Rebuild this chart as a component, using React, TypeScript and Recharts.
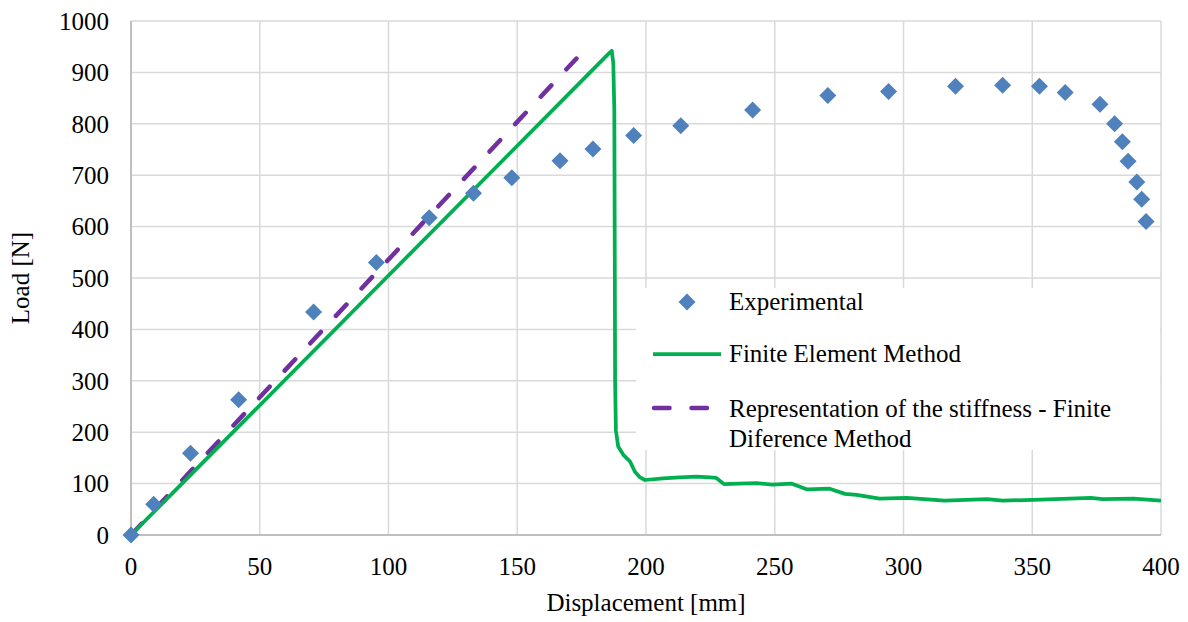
import {
  CartesianGrid,
  ComposedChart,
  Label,
  Line,
  Scatter,
  XAxis,
  YAxis,
} from 'recharts';

// Experimental measurements (displacement mm, load N)
const expDisplacement = [
  0, 8.8, 23.1, 41.8, 70.9, 95.3, 115.8, 133, 147.9, 166.6, 179.4, 195.2, 213.5, 241.4,
  270.6, 294.2, 320.2, 338.5, 352.8, 362.8, 376.3, 382, 385, 387.2, 390.6, 392.5, 394.2,
];
const expLoad = [
  0, 60, 159, 263, 434, 530, 617, 665, 695, 728, 751, 777, 796, 827, 855, 863, 873, 875,
  873, 861, 838, 800, 765, 727, 687, 653, 610,
];

// Finite element curve
const femDisplacement = [
  0, 185.8, 186.7, 187.3, 187.7, 187.9, 188.0, 188.3, 189.2, 191.2, 193.8, 195.7, 197.7,
  199.6, 206.7, 213, 219.7, 224.9, 227.3, 230.3, 236, 243, 249, 256.4, 262.4, 271.3, 277.3,
  281.8, 290.7, 301.2, 316, 332.5, 338.5, 353.4, 372.8, 377.3, 389.3, 400,
];
const femLoad = [
  0, 938, 942, 918, 827, 500, 301, 204, 172, 156, 143, 123, 112, 107, 110, 112, 113.5, 112,
  111, 99, 100, 101, 98, 100, 89, 90, 80, 78, 70.6, 72, 67, 70, 67, 68.6, 72, 70, 70.6, 67,
];

// Stiffness line (finite difference)
const fdmDisplacement = [0, 173];
const fdmLoad = [0, 927];

const xTicks = [0, 50, 100, 150, 200, 250, 300, 350, 400];
const yTicks = [0, 100, 200, 300, 400, 500, 600, 700, 800, 900, 1000];

const SERIES_EXP = 'Experimental';
const SERIES_FEM = 'Finite Element Method';
const SERIES_FDM_1 = 'Representation of the stiffness - Finite';
const SERIES_FDM_2 = 'Diference Method';

const expData = expDisplacement.map((x, i) => ({ x, y: expLoad[i] }));
const femData = femDisplacement.map((x, i) => ({ x, y: femLoad[i] }));
const fdmData = fdmDisplacement.map((x, i) => ({ x, y: fdmLoad[i] }));

const FONT = '"Liberation Serif", "Times New Roman", serif';
const BLUE = '#4F81BD';
const GREEN = '#00B050';
const PURPLE = '#7030A0';

function Diamond(props: any) {
  const { cx, cy } = props;
  const r = 8.5;
  return (
    <path
      d={`M${cx},${cy - r}L${cx + r},${cy}L${cx},${cy + r}L${cx - r},${cy}Z`}
      fill={BLUE}
    />
  );
}

export default function App() {
  return (
    <div
      style={{
        position: 'absolute',
        left: 0,
        top: 0,
        width: 1188,
        height: 622,
        background: '#fff',
        fontFamily: FONT,
      }}
    >
      <ComposedChart
        width={1188}
        height={622}
        margin={{ top: 21, right: 27, bottom: 0, left: 0 }}
        style={{ fontFamily: FONT }}
      >
        <CartesianGrid stroke="#d9d9d9" strokeWidth={1.5} />
        <XAxis
          type="number"
          dataKey="x"
          domain={[0, 400]}
          ticks={xTicks}
          height={87}
          axisLine={{ stroke: '#bfbfbf', strokeWidth: 2 }}
          tickLine={false}
          tickSize={0}
          tickMargin={22}
          tick={{ fill: '#000', fontSize: 25, fontFamily: FONT }}
        >
          <Label
            value="Displacement [mm]"
            position="insideBottom"
            offset={11}
            style={{ fill: '#000', fontSize: 25, fontFamily: FONT }}
          />
        </XAxis>
        <YAxis
          type="number"
          dataKey="y"
          domain={[0, 1000]}
          ticks={yTicks}
          width={131}
          axisLine={{ stroke: '#bfbfbf', strokeWidth: 2 }}
          tickLine={false}
          tickSize={0}
          tickMargin={22}
          tick={{ fill: '#000', fontSize: 25, fontFamily: FONT }}
          label={{
            content: (p: any) => {
              const vb = p.viewBox || { x: 0, y: 21, height: 514 };
              const cy = vb.y + vb.height / 2;
              return (
                <text
                  transform={`translate(${vb.x + 29}, ${cy}) rotate(-90)`}
                  textAnchor="middle"
                  fill="#000"
                  fontSize={25}
                  fontFamily={FONT}
                >
                  Load [N]
                </text>
              );
            },
          }}
        />
        <Line
          data={fdmData}
          dataKey="y"
          type="linear"
          stroke={PURPLE}
          strokeWidth={4.5}
          strokeDasharray="15.5 22"
          strokeLinecap="round"
          dot={false}
          activeDot={false}
          isAnimationActive={false}
        />
        <Line
          data={femData}
          dataKey="y"
          type="linear"
          stroke={GREEN}
          strokeWidth={3.75}
          strokeLinejoin="round"
          dot={false}
          activeDot={false}
          isAnimationActive={false}
        />
        <Scatter
          data={expData}
          dataKey="y"
          shape={Diamond}
          isAnimationActive={false}
        />
      </ComposedChart>

      <div
        style={{
          position: 'absolute',
          left: 636,
          top: 288,
          width: 524,
          height: 162,
          background: '#fff',
          color: '#000',
          fontSize: 25,
          fontFamily: FONT,
        }}
      >
        <svg
          width={90}
          height={162}
          style={{ position: 'absolute', left: 0, top: 0 }}
        >
          <path d="M51,5.5L59.5,14L51,22.5L42.5,14Z" fill={BLUE} />
          <line x1={17} y1={66} x2={85} y2={66} stroke={GREEN} strokeWidth={3.75} />
          <line
            x1={18}
            y1={120}
            x2={73}
            y2={120}
            stroke={PURPLE}
            strokeWidth={4.5}
            strokeDasharray="15.5 22"
            strokeLinecap="round"
          />
        </svg>
        <div style={{ position: 'absolute', left: 93, top: 0, lineHeight: '28px', whiteSpace: 'nowrap' }}>
          {SERIES_EXP}
        </div>
        <div style={{ position: 'absolute', left: 93, top: 52, lineHeight: '28px', whiteSpace: 'nowrap' }}>
          {SERIES_FEM}
        </div>
        <div style={{ position: 'absolute', left: 93, top: 106, lineHeight: '30px', whiteSpace: 'nowrap' }}>
          {SERIES_FDM_1}
          <br />
          {SERIES_FDM_2}
        </div>
      </div>
    </div>
  );
}
